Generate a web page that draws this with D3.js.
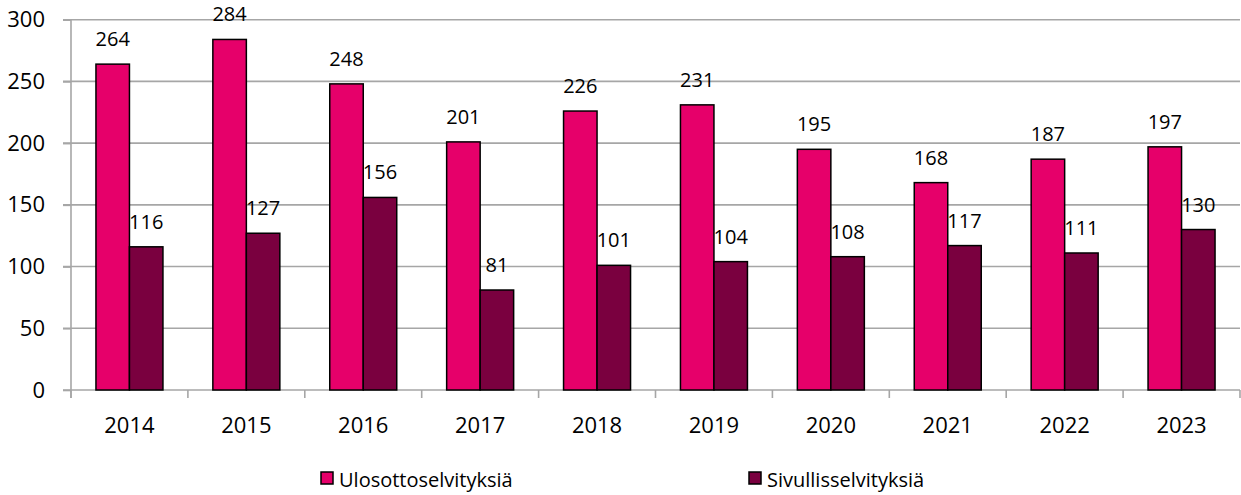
<!DOCTYPE html>
<html>
<head>
<meta charset="utf-8">
<script src="https://cdn.jsdelivr.net/npm/d3@7"></script>
<style>
  html, body { margin: 0; padding: 0; background: #fff; }
  svg { display: block; font-family: "Open Sans", sans-serif; }
</style>
</head>
<body>
<svg id="chart" width="1241" height="495"></svg>
<script>
// Yearly counts of enforcement and third-party investigations
const years = ["2014", "2015", "2016", "2017", "2018", "2019", "2020", "2021", "2022", "2023"];
const seriesNames = ["Ulosottoselvityksiä", "Sivullisselvityksiä"];
const ulosotto = [264, 284, 248, 201, 226, 231, 195, 168, 187, 197];
const sivullis = [116, 127, 156, 81, 101, 104, 108, 117, 111, 130];
const yTicks = [0, 50, 100, 150, 200, 250, 300];
const colors = ["#E6006A", "#7A003F"];

const values = [ulosotto, sivullis];
const rows = years.map((y, i) => ({ year: y, vals: values.map((v, s) => ({ s, v: v[i] })) }));

const svg = d3.select("#chart");
const plotLeft = 71, plotRight = 1240, plotTop = 19.7, plotBottom = 390;

const x0 = d3.scaleBand().domain(years).range([plotLeft, plotRight]).paddingInner(0).paddingOuter(0);
const x1 = d3.scaleBand().domain([0, 1]).range([0, x0.bandwidth()]).paddingInner(0).paddingOuter(0.745);
const y = d3.scaleLinear().domain([0, 300]).range([plotBottom, plotTop]);

const gridColor = "#a6a6a6";

// Horizontal gridlines (with left tick stubs)
svg.append("g")
  .selectAll("line")
  .data(yTicks.filter(t => t > 0))
  .join("line")
  .attr("x1", plotLeft - 8).attr("x2", plotRight)
  .attr("y1", d => y(d)).attr("y2", d => y(d))
  .attr("stroke", gridColor).attr("stroke-width", 1.6);

// Y axis
const yAxis = d3.axisLeft(y).tickValues(yTicks).tickSize(8).tickPadding(18);
const gy = svg.append("g").attr("transform", `translate(${plotLeft},0)`).call(yAxis);
gy.select(".domain").attr("stroke", gridColor).attr("stroke-width", 1.6)
  .attr("d", `M0,${plotBottom + 8}V${plotTop}`);
gy.selectAll(".tick line").attr("stroke", gridColor).attr("stroke-width", 1.6);
gy.selectAll(".tick text").attr("fill", "#000").attr("font-size", 22)
  .attr("font-family", "'Open Sans', sans-serif");

// X axis with ticks at category boundaries
const gx = svg.append("g").attr("transform", `translate(0,${plotBottom})`);
gx.append("line").attr("x1", plotLeft - 8).attr("x2", plotRight).attr("y1", 0).attr("y2", 0)
  .attr("stroke", gridColor).attr("stroke-width", 1.6);
const bounds = years.map(yr => x0(yr)).concat([x0(years[years.length - 1]) + x0.bandwidth()]);
gx.selectAll("line.tk").data(bounds).join("line").attr("class", "tk")
  .attr("x1", d => d).attr("x2", d => d).attr("y1", 0).attr("y2", 8)
  .attr("stroke", gridColor).attr("stroke-width", 1.6);
gx.selectAll("text").data(years).join("text")
  .attr("x", d => x0(d) + x0.bandwidth() / 2)
  .attr("y", 34)
  .attr("text-anchor", "middle")
  .attr("dominant-baseline", "central")
  .attr("font-size", 22)
  .text(d => d);

// Bars
const groups = svg.append("g").selectAll("g").data(rows).join("g")
  .attr("transform", d => `translate(${x0(d.year)},0)`);

groups.selectAll("rect").data(d => d.vals).join("rect")
  .attr("x", d => x1(d.s))
  .attr("y", d => y(d.v))
  .attr("width", x1.bandwidth())
  .attr("height", d => y(0) - y(d.v))
  .attr("fill", d => colors[d.s])
  .attr("stroke", "#000").attr("stroke-width", 1.5);

// Value labels
groups.selectAll("text").data(d => d.vals).join("text")
  .attr("x", d => x1(d.s) + x1.bandwidth() / 2)
  .attr("y", d => y(d.v) - 25.5)
  .attr("text-anchor", "middle")
  .attr("dominant-baseline", "central")
  .attr("font-size", 20)
  .text(d => d.v);

// Legend
const legendX = [321, 749];
const lg = svg.append("g").selectAll("g").data(seriesNames).join("g")
  .attr("transform", (d, i) => `translate(${legendX[i]},472)`);
lg.append("rect").attr("width", 12).attr("height", 12)
  .attr("fill", (d, i) => colors[i]).attr("stroke", "#000").attr("stroke-width", 1.5);
lg.append("text").attr("x", 18).attr("y", 7).attr("dominant-baseline", "central")
  .attr("font-size", 20).text(d => d);
</script>
</body>
</html>
